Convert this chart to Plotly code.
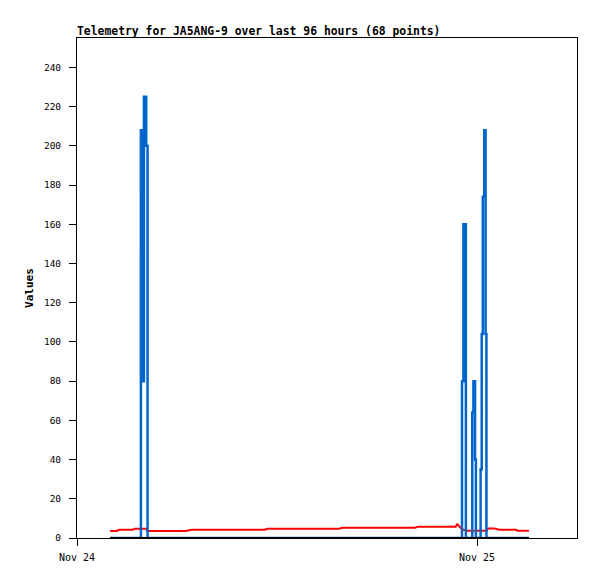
import plotly.graph_objects as go

# telemetry samples (68 points), times in local station time
times = [
    "2023-11-24 01:59", "2023-11-24 02:24", "2023-11-24 02:31", "2023-11-24 02:56",
    "2023-11-24 03:21", "2023-11-24 03:28", "2023-11-24 03:47",
    "2023-11-24 03:50", "2023-11-24 03:56", "2023-11-24 03:59", "2023-11-24 04:01",
    "2023-11-24 04:09", "2023-11-24 04:14",
    "2023-11-24 04:44", "2023-11-24 05:56", "2023-11-24 06:31", "2023-11-24 06:53",
    "2023-11-24 07:29", "2023-11-24 08:48", "2023-11-24 09:27", "2023-11-24 10:07",
    "2023-11-24 10:43", "2023-11-24 11:15", "2023-11-24 11:26", "2023-11-24 12:05",
    "2023-11-24 12:45", "2023-11-24 13:24", "2023-11-24 14:43", "2023-11-24 15:19",
    "2023-11-24 15:44", "2023-11-24 15:55", "2023-11-24 16:35", "2023-11-24 17:14",
    "2023-11-24 17:54", "2023-11-24 19:13", "2023-11-24 19:49", "2023-11-24 20:17",
    "2023-11-24 20:28", "2023-11-24 21:08", "2023-11-24 21:47", "2023-11-24 22:23",
    "2023-11-24 22:43", "2023-11-24 22:49", "2023-11-24 23:01", "2023-11-24 23:04",
    "2023-11-24 23:06", "2023-11-24 23:11", "2023-11-24 23:20", "2023-11-24 23:26",
    "2023-11-24 23:41", "2023-11-24 23:43", "2023-11-24 23:47", "2023-11-24 23:53",
    "2023-11-24 23:56",
    "2023-11-25 00:11", "2023-11-25 00:13", "2023-11-25 00:17", "2023-11-25 00:21",
    "2023-11-25 00:26", "2023-11-25 00:31", "2023-11-25 00:34",
    "2023-11-25 00:40", "2023-11-25 01:02", "2023-11-25 01:20", "2023-11-25 01:51",
    "2023-11-25 02:20", "2023-11-25 02:27", "2023-11-25 03:07",
]

# channel values
red_vals = [
    3.6, 3.6, 4.2, 4.2, 4.2, 4.75, 4.75,
    4.75, 4.75, 4.75, 4.75, 4.75, 3.6,
    3.6, 3.6, 3.6, 4.2, 4.2, 4.2, 4.2, 4.2, 4.2, 4.2, 4.75, 4.75,
    4.75, 4.75, 4.75, 4.75, 4.75, 5.26, 5.26, 5.26, 5.26, 5.26, 5.26, 5.26,
    5.8, 5.8, 5.8, 5.8,
    5.8, 7.0, 5.1, 4.8,
    4.5, 4.2, 3.9, 3.7,
    3.7, 3.7, 3.7, 3.7, 3.7,
    3.7, 3.7, 3.7, 3.7, 3.7, 3.7, 3.7,
    4.9, 4.9, 4.2, 4.2, 4.2, 3.7, 3.7,
]
blue_vals = [
    0, 0, 0, 0, 0, 0, 0,
    208, 177, 80, 225, 200, 0,
    0, 0, 0, 0, 0, 0, 0, 0, 0, 0, 0, 0,
    0, 0, 0, 0, 0, 0, 0, 0, 0, 0, 0, 0,
    0, 0, 0, 0,
    0, 0, 0, 0,
    80, 160, 0, 0,
    0, 64, 80, 40, 0,
    0, 35, 104, 174, 208, 104, 0,
    0, 0, 0, 0, 0, 0, 0,
]
black_vals = [0] * len(times)

fig = go.Figure()
fig.add_trace(go.Scatter(x=times, y=red_vals, mode="lines",
                         line=dict(color="#ff0000", width=2)))
fig.add_trace(go.Scatter(x=times, y=blue_vals, mode="lines",
                         line=dict(color="#0066cc", width=2.5, shape="hv")))
fig.add_trace(go.Scatter(x=times, y=black_vals, mode="lines",
                         line=dict(color="#000000", width=2)))

# page body has an 8px default margin, so the figure is 8px smaller each way
W, H = 589, 571
mono = "DejaVu Sans Mono"
fig.update_layout(
    width=W, height=H,
    margin=dict(l=69, r=20, t=30, b=41),
    plot_bgcolor="white", paper_bgcolor="white",
    showlegend=False,
    font=dict(family=mono, size=9.5, color="black"),
    title=dict(text="<b>Telemetry for JA5ANG-9 over last 96 hours (68 points)</b>",
               x=69 / W, xref="container", xanchor="left",
               y=1 - 23 / H, yref="container", yanchor="middle",
               font=dict(family=mono, size=11.4, color="black")),
)
fig.update_xaxes(
    range=["2023-11-24 00:00", "2023-11-25 06:00"],
    dtick=86400000, tickformat="%b %d",
    ticks="outside", ticklen=7, tickcolor="black", ticklabelstandoff=3,
    tickfont=dict(size=10),
    showline=True, linecolor="black", linewidth=1, mirror=True,
    showgrid=False, zeroline=False,
)
fig.update_yaxes(
    range=[0, 255], dtick=20, tick0=0,
    ticks="outside", ticklen=7, tickcolor="black", ticklabelstandoff=6,
    showline=True, linecolor="black", linewidth=1, mirror=True,
    showgrid=False, zeroline=False,
    title=dict(text="<b>Values</b>", standoff=8, font=dict(family=mono, size=11)),
)

fig.write_html("out.html")
